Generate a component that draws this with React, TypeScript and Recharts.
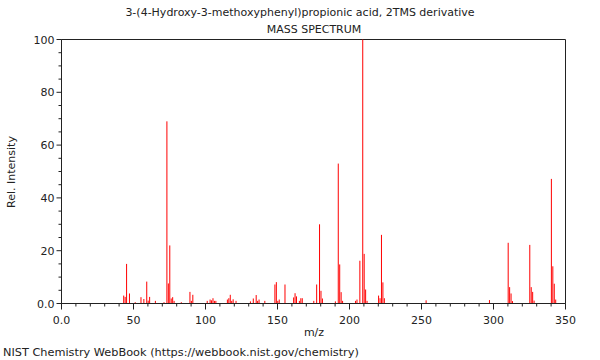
import React from "react";
import { BarChart, Bar, XAxis, YAxis, ReferenceArea } from "recharts";

// m/z values and relative intensities
const mzValues = [
  43, 44, 45, 47, 51, 55, 57, 59, 60, 61, 65, 71, 73, 74, 75, 76, 77, 78, 83,
  89, 90, 91, 101, 103, 104, 105, 106, 107, 115, 116, 117, 118, 119, 121,
  131, 133, 135, 136, 137, 141, 148, 149, 150, 151, 155, 161, 162, 163, 165,
  166, 167, 175, 177, 179, 180, 181, 190, 192, 193, 194, 195, 204, 205, 207,
  209, 210, 211, 212, 220, 221, 222, 223, 224, 253, 297, 310, 311, 312, 313,
  325, 326, 327, 328, 340, 341, 342, 343,
];
const intensities = [
  3, 2.5, 15, 3.8, 0.5, 2.4, 1.7, 8.3, 1.1, 2.5, 1, 0.5, 69, 7.6, 22, 1.9, 2.4, 1, 0.5,
  4.4, 1, 3.3, 1, 1.5, 1.2, 2, 1, 1, 1.5, 2, 3.3, 1, 1.6, 1,
  0.8, 1.9, 3.2, 1, 1.5, 1, 7.2, 8.1, 1, 1.5, 7.2, 2.3, 3.9, 2.7, 1,
  2, 2, 1, 7.2, 30, 4.8, 1.9, 0.8, 53, 14.8, 4.3, 1, 1, 1.5, 16.2,
  100, 18.8, 5.3, 1, 3, 2, 26, 8, 2, 1.2, 1.3, 23, 6.2, 3.8, 0.9,
  22.2, 6.2, 4.4, 1.1, 47.2, 14.1, 7.5, 1.5,
];

const xTicks = [0, 10, 20, 30, 40, 50, 60, 70, 80, 90, 100, 110, 120, 130, 140, 150, 160, 170, 180,
  190, 200, 210, 220, 230, 240, 250, 260, 270, 280, 290, 300, 310, 320, 330, 340, 350];
const yTicks = [0, 5, 10, 15, 20, 25, 30, 35, 40, 45, 50, 55, 60, 65, 70, 75, 80, 85, 90, 95, 100];

const data = mzValues.map((m, i) => ({ mz: m, intensity: intensities[i] }));

const FONT = "'DejaVu Sans', sans-serif";
const INK = "#222";

function fmt(v: number) {
  return v === 0 ? "0.0" : String(v);
}

const XTick = ({ x, y, payload }: any) => {
  const v = payload.value as number;
  const major = v % 50 === 0;
  return (
    <g>
      <line x1={x} y1={y} x2={x} y2={y + (major ? 6 : 3)} stroke={INK} />
      {major && (
        <text x={x} y={y + 20} textAnchor="middle" fontSize={11} fontFamily={FONT} fill={INK}>
          {fmt(v)}
        </text>
      )}
    </g>
  );
};

const YTick = ({ x, y, payload }: any) => {
  const v = payload.value as number;
  const major = v % 20 === 0;
  return (
    <g>
      <line x1={x - (major ? 5 : 3)} y1={y} x2={x} y2={y} stroke={INK} />
      {major && (
        <text x={x - 7} y={y + 4} textAnchor="end" fontSize={11} fontFamily={FONT} fill={INK}>
          {fmt(v)}
        </text>
      )}
    </g>
  );
};

// thin spectrum line, nudged half a pixel so it sits like the original plot
const Peak = (p: any) => <rect x={p.x + 0.5} y={p.y} width={p.width} height={p.height} fill="#ff0000" />;

export default function App() {
  return (
    <div style={{ position: "absolute", left: 0, top: 0, width: 600, height: 360, background: "#fff", fontFamily: FONT }}>
      <div style={{ position: "absolute", top: 6, left: 0, width: 600, textAlign: "center", fontSize: 11, color: INK }}>
        3-(4-Hydroxy-3-methoxyphenyl)propionic acid, 2TMS derivative
      </div>
      <div style={{ position: "absolute", top: 23, left: 62, width: 504, textAlign: "center", fontSize: 11, color: INK }}>
        MASS SPECTRUM
      </div>
      <BarChart width={600} height={360} data={data} margin={{ top: 39.5, right: 34.5, bottom: 26.5, left: 11.5 }}>
        <XAxis
          dataKey="mz"
          type="number"
          domain={[0, 350]}
          ticks={xTicks}
          interval={0}
          height={30}
          tickSize={0}
          tickMargin={0}
          tickLine={false}
          tick={<XTick />}
          axisLine={{ stroke: INK }}
        />
        <YAxis
          type="number"
          domain={[0, 100]}
          ticks={yTicks}
          interval={0}
          width={50}
          tickSize={0}
          tickMargin={0}
          tickLine={false}
          tick={<YTick />}
          axisLine={{ stroke: INK }}
        />
        <ReferenceArea x1={0} x2={350} y1={0} y2={100} fill="none" stroke={INK} strokeOpacity={1} />
        <Bar dataKey="intensity" fill="#ff0000" barSize={1} shape={<Peak />} isAnimationActive={false} />
      </BarChart>
      <div style={{ position: "absolute", top: 326, left: 62, width: 504, textAlign: "center", fontSize: 11, color: INK }}>
        m/z
      </div>
      <div
        style={{
          position: "absolute", left: 11, top: 172, fontSize: 11, color: INK, whiteSpace: "nowrap",
          transform: "translate(-50%, -50%) rotate(-90deg)",
        }}
      >
        Rel. Intensity
      </div>
      <div style={{ position: "absolute", top: 346, left: 3, fontSize: 11.3, color: INK, whiteSpace: "nowrap" }}>
        NIST Chemistry WebBook (https://webbook.nist.gov/chemistry)
      </div>
    </div>
  );
}
